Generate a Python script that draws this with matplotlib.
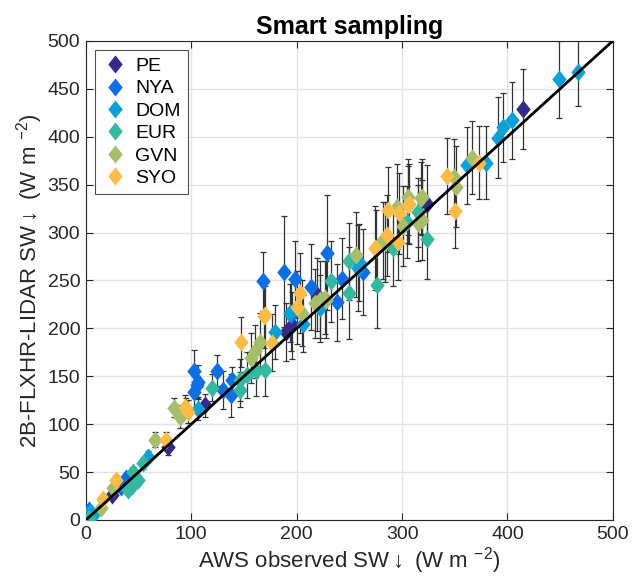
import numpy as np
import matplotlib
matplotlib.use('Agg')
import matplotlib.pyplot as plt

plt.rcParams['font.family'] = ['Liberation Sans', 'DejaVu Sans']
plt.rcParams['mathtext.fontset'] = 'custom'
plt.rcParams['mathtext.rm'] = 'Liberation Sans'

# Station data: (observed, satellite, error)
pe_x = [25, 78, 113, 190, 196, 219, 324, 415]
pe_y = [26, 76, 120, 196, 203, 235, 330, 429]
pe_e = [4, 8, 12, 30, 35, 38, 40, 42]

nya_x = [3, 33, 38, 103, 105, 103, 106, 124, 130, 138, 139, 168, 188, 198, 195, 214, 229, 243, 263, 238]
nya_y = [10, 34, 44, 134, 141, 155, 144, 156, 136, 130, 146, 249, 259, 251, 214, 243, 279, 252, 259, 227]
nya_e = [3, 5, 5, 18, 14, 22, 18, 16, 20, 22, 14, 31, 58, 40, 38, 45, 60, 42, 45, 40]

dom_x = [4, 7, 59, 106, 179, 194, 206, 222, 258, 259, 362, 380, 391, 396, 404, 449, 467]
dom_y = [8, 5, 66, 116, 196, 216, 205, 221, 263, 269, 370, 373, 399, 410, 417, 460, 468]
dom_e = [3, 3, 6, 12, 28, 30, 30, 35, 45, 40, 40, 38, 42, 36, 40, 40, 36]

eur_x = [3, 40, 44, 45, 49, 54, 120, 146, 146, 153, 161, 170, 233, 250, 250, 276, 291, 305, 315, 324]
eur_y = [2, 31, 35, 50, 42, 59, 138, 136, 146, 151, 155, 157, 249, 237, 270, 245, 284, 311, 321, 293]
eur_e = [3, 4, 4, 5, 5, 6, 14, 18, 22, 24, 26, 28, 42, 48, 40, 45, 40, 38, 36, 42]

gvn_x = [14, 26, 66, 84, 89, 157, 160, 165, 205, 217, 222, 227, 228, 256, 282, 284, 295, 301, 306, 315, 318, 319, 319, 349, 351, 366]
gvn_y = [12, 33, 84, 117, 108, 169, 176, 186, 216, 226, 230, 232, 230, 277, 292, 290, 327, 307, 337, 310, 336, 337, 313, 358, 348, 378]
gvn_e = [3, 4, 8, 10, 12, 26, 28, 30, 34, 36, 40, 38, 40, 44, 40, 42, 44, 42, 40, 40, 38, 40, 42, 40, 42, 38]

syo_x = [16, 29, 76, 94, 95, 97, 147, 169, 170, 177, 200, 203, 274, 275, 286, 287, 296, 297, 306, 307, 343, 350, 373]
syo_y = [22, 42, 84, 118, 117, 113, 186, 213, 214, 185, 222, 237, 284, 283, 297, 324, 290, 320, 329, 330, 359, 322, 373]
syo_e = [3, 5, 8, 12, 10, 12, 26, 34, 30, 30, 38, 42, 44, 40, 42, 44, 40, 42, 40, 42, 40, 38, 38]

stations = ['PE', 'NYA', 'DOM', 'EUR', 'GVN', 'SYO']
colors = ['#352a87', '#0f6fe0', '#0ca0d8', '#35b8a0', '#a6be6c', '#fcbc47']
xs = [pe_x, nya_x, dom_x, eur_x, gvn_x, syo_x]
ys = [pe_y, nya_y, dom_y, eur_y, gvn_y, syo_y]
es = [pe_e, nya_e, dom_e, eur_e, gvn_e, syo_e]

diamond = [(0, 1), (0.8, 0), (0, -1), (-0.8, 0), (0, 1)]

fig = plt.figure(figsize=(6.41, 5.84), dpi=100)
ax = fig.add_axes([0.134, 0.1096, 0.822, 0.8204])

# error bars first, markers on top
for x, y, e in zip(xs, ys, es):
    ax.errorbar(x, y, yerr=e, fmt='none', ecolor='#333333', elinewidth=0.9,
                capsize=2.5, capthick=0.9, zorder=2)

for name, c, x, y in zip(stations, colors, xs, ys):
    ax.plot(x, y, linestyle='none', marker=diamond, ms=13, color=c,
            markeredgewidth=0, label=name, zorder=3)

# 1:1 line
ax.plot([0, 500], [0, 500], color='k', lw=2, zorder=4)

ax.set_xlim(0, 500)
ax.set_ylim(0, 500)
ax.set_xticks(np.arange(0, 501, 100))
ax.set_yticks(np.arange(0, 501, 50))
ax.grid(True, color='#e3e3e3', lw=1)
ax.set_axisbelow(True)
ax.tick_params(direction='in', top=True, right=True, length=5, labelsize=14,
               colors='#262626', pad=4)
for s in ax.spines.values():
    s.set_color('#262626')

ax.set_title('Smart sampling', fontsize=18, fontweight='bold', pad=5)
ax.set_xlabel(r'AWS observed SW$\downarrow$ (W m $^{\mathregular{-2}}$)', fontsize=16,
              color='#262626', labelpad=2)
ax.set_ylabel(r'2B-FLXHR-LIDAR SW$\downarrow$ (W m $^{\mathregular{-2}}$)', fontsize=16,
              color='#262626', labelpad=2)

leg = ax.legend(loc='upper left', bbox_to_anchor=(0.018, 0.98), fontsize=14,
                frameon=True, fancybox=False, edgecolor='#262626',
                handletextpad=0.4, borderpad=0.35, labelspacing=0.25,
                handlelength=1.3, borderaxespad=0)
leg.get_frame().set_linewidth(0.8)

fig.savefig('out.png', dpi=100)
